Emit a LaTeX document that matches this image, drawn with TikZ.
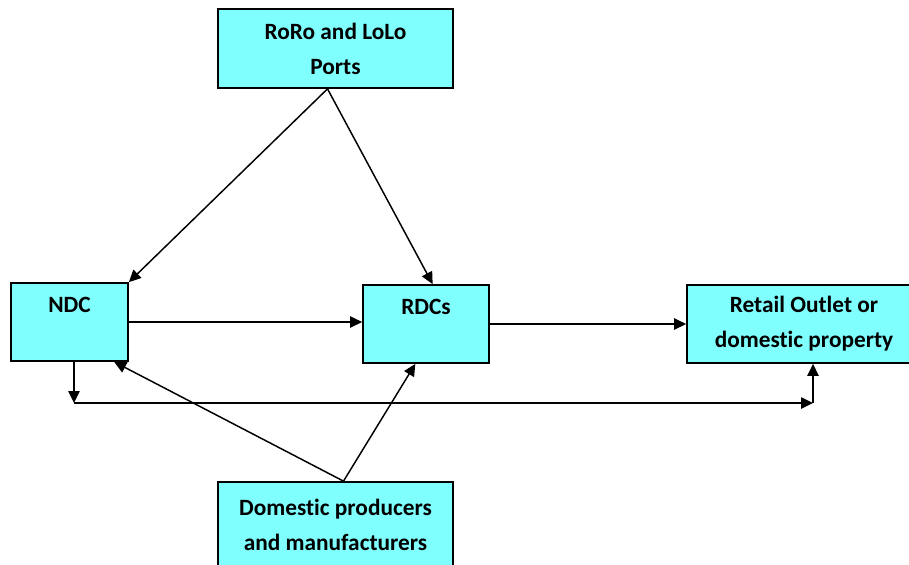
\documentclass[tikz,border=0pt]{standalone}
\usepackage{fontspec}
\setmainfont[Ligatures=NoCommon]{Carlito}
\usetikzlibrary{arrows.meta}
\definecolor{boxcyan}{RGB}{128,255,255}
\tikzset{
    block/.style={draw=black, fill=boxcyan, line width=1.3pt, align=center,
        font=\fontsize{17.5}{26.25}\selectfont\bfseries, inner sep=0pt},
    flow/.style={line width=1.1pt, -{Triangle[length=9pt, width=8.5pt]}}
}
\begin{document}
\begin{tikzpicture}[x=0.75pt, y=-0.75pt]
    \useasboundingbox (0, 0) rectangle (909, 564);

    \node[block, minimum width=176.25pt, minimum height=59.25pt] (ports) at (335.5, 48.5) {RoRo and LoLo\\Ports};
    \node[block, minimum width=87.75pt, minimum height=58.5pt] (ndc) at (69.5, 322) {NDC\\ \phantom{N}};
    \node[block, minimum width=94.5pt, minimum height=58.5pt] (rdcs) at (426, 324) {RDCs\\ \phantom{R}};
    \node[block, minimum width=175.5pt, minimum height=58.5pt] (retail) at (804, 324) {Retail Outlet or\\domestic property};
    \node[block, minimum width=176.25pt, minimum height=63.75pt] (dom) at (335.5, 524.5) {Domestic producers\\and manufacturers};

    \coordinate (split) at (74, 403);
    \coordinate (join) at (813, 403);

    \draw[flow] ([xshift=-6pt]ports.south) -- (ndc.north east);
    \draw[flow] ([xshift=-6pt]ports.south) -- ([xshift=5pt]rdcs.north);

    \draw[flow] (ndc.east) -- (ndc.east -| rdcs.west);
    \draw[flow] (rdcs.east) -- (rdcs.east -| retail.west);

    \draw[flow] ([xshift=6pt]dom.north) -- ([xshift=-11pt]ndc.south east);
    \draw[flow] ([xshift=6pt]dom.north) -- ([xshift=-8pt]rdcs.south);

    \draw[flow] (split |- ndc.south) -- (split);
    \draw[flow] (split) -- (join);
    \draw[flow] (join) -- (join |- retail.south);
\end{tikzpicture}
\end{document}
